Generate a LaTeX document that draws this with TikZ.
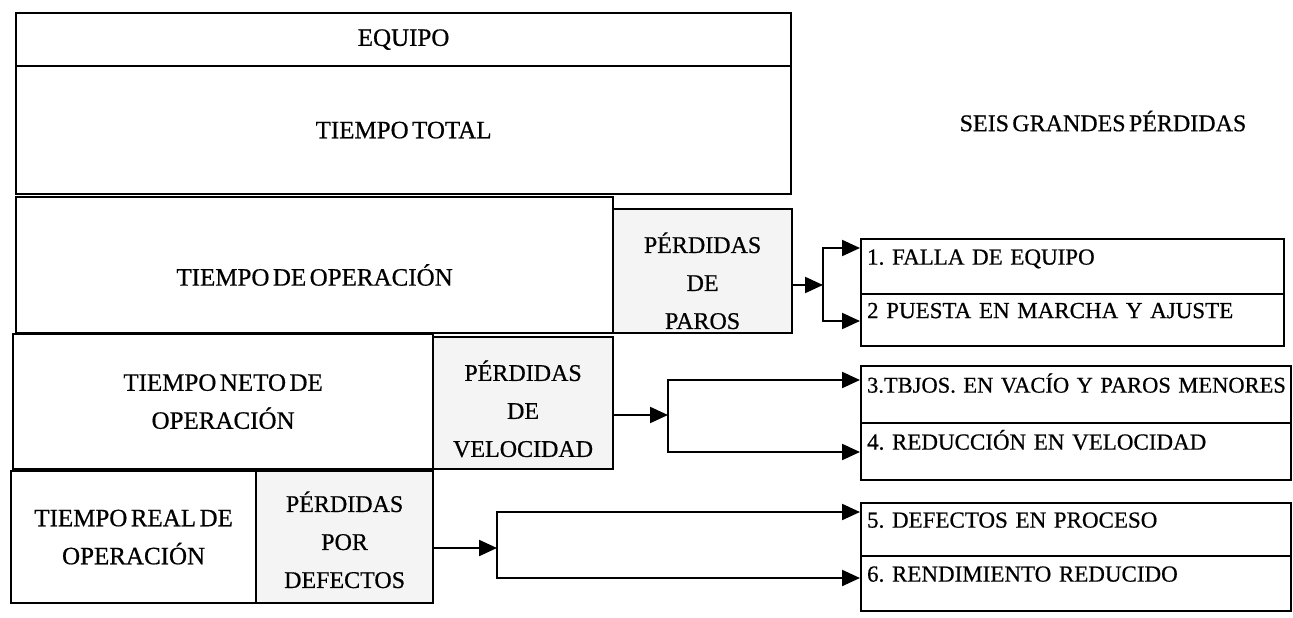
\documentclass[tikz,border=0pt]{standalone}
\usepackage{fontspec}
\setmainfont{Liberation Serif}[FakeBold=0.6]
\newfontfamily\tightfont{Liberation Serif}[WordSpace=0.55, FakeBold=0.6]
\usetikzlibrary{arrows.meta}
\begin{document}
\frenchspacing
\begin{tikzpicture}[x=1pt,y=-1pt,
  box/.style={draw, line width=2.2pt, anchor=north west, inner sep=0pt, align=center,
    font=\tightfont\fontsize{25}{38}\selectfont},
  loss/.style={box, fill=gray!9, font=\tightfont\fontsize{24}{38}\selectfont},
  item/.style={draw, line width=2.2pt, anchor=north west, inner xsep=6pt, inner ysep=0pt,
    align=left, font=\fontsize{23}{24}\selectfont, text height=16pt, text depth=20pt},
  tip/.style={line width=2.2pt, line join=miter, -{Triangle[length=18pt,width=16pt]}},
  tips/.style={line width=2.2pt, line join=miter, {Triangle[length=18pt,width=16pt]}-{Triangle[length=18pt,width=16pt]}}]
\useasboundingbox (0,0) rectangle (1293,618);

% left stack
\node[box, minimum width=775pt, minimum height=53pt] (equipo) at (15,12) {EQUIPO};
\node[box, minimum width=775pt, minimum height=128pt] (total) at (15,65) {TIEMPO TOTAL};
\node[box, minimum width=597pt, minimum height=136pt, text height=46pt, text depth=5pt] (oper) at (15,196) {TIEMPO DE OPERACIÓN};
\node[loss, minimum width=179pt, minimum height=124pt] (paros) at (612,208) {\rule{0pt}{40pt}PÉRDIDAS\\DE\\PAROS};
\node[box, minimum width=420pt, minimum height=135pt] (neto) at (12,333) {TIEMPO NETO DE\\OPERACIÓN};
\node[loss, minimum width=180pt, minimum height=132pt] (vel) at (432,336) {\rule{0pt}{32pt}PÉRDIDAS\\DE\\VELOCIDAD};
\node[box, minimum width=245pt, minimum height=132pt] (real) at (10,470) {TIEMPO REAL DE\\OPERACIÓN};
\node[loss, minimum width=177pt, minimum height=132pt] (def) at (255,470) {\rule{0pt}{26pt}PÉRDIDAS\\POR\\DEFECTOS};

% title
\node[font=\tightfont\fontsize{24}{28}\selectfont] (title) at (1103,121) {SEIS GRANDES PÉRDIDAS};

% six losses
\node[item, minimum width=423pt, text width=411pt, minimum height=55pt] (f1) at (860,238) {1. FALLA DE EQUIPO};
\node[item, minimum width=423pt, text width=411pt, minimum height=52pt] (f2) at (860,293) {2 PUESTA EN MARCHA Y AJUSTE};
\node[item, minimum width=430pt, text width=418pt, minimum height=57pt, font=\fontsize{22.5}{24}\selectfont] (f3) at (860,365) {\mbox{3.TBJOS. EN VACÍO Y PAROS MENORES}};
\node[item, minimum width=430pt, text width=418pt, minimum height=57pt] (f4) at (860,422) {4. REDUCCIÓN EN VELOCIDAD};
\node[item, minimum width=430pt, text width=418pt, minimum height=53pt] (f5) at (860,502) {5. DEFECTOS EN PROCESO};
\node[item, minimum width=430pt, text width=418pt, minimum height=55pt] (f6) at (860,555) {6. RENDIMIENTO REDUCIDO};

% connectors
\coordinate (pj) at (823,285);
\coordinate (pt) at (823,248);
\coordinate (pb) at (823,321);
\draw[tip] (paros.east |- pj) -- (pj);
\draw[tips] (pt -| f1.west) -- (pt) -- (pb) -- (pb -| f2.west);

\coordinate (vj) at (668,415);
\coordinate (vt) at (668,380);
\coordinate (vb) at (668,452);
\draw[tip] (vel.east |- vj) -- (vj);
\draw[tips] (vt -| f3.west) -- (vt) -- (vb) -- (vb -| f4.west);

\coordinate (dj) at (497,548);
\coordinate (dt) at (497,512);
\coordinate (db) at (497,578);
\draw[tip] (def.east |- dj) -- (dj);
\draw[tips] (dt -| f5.west) -- (dt) -- (db) -- (db -| f6.west);
\end{tikzpicture}
\end{document}
